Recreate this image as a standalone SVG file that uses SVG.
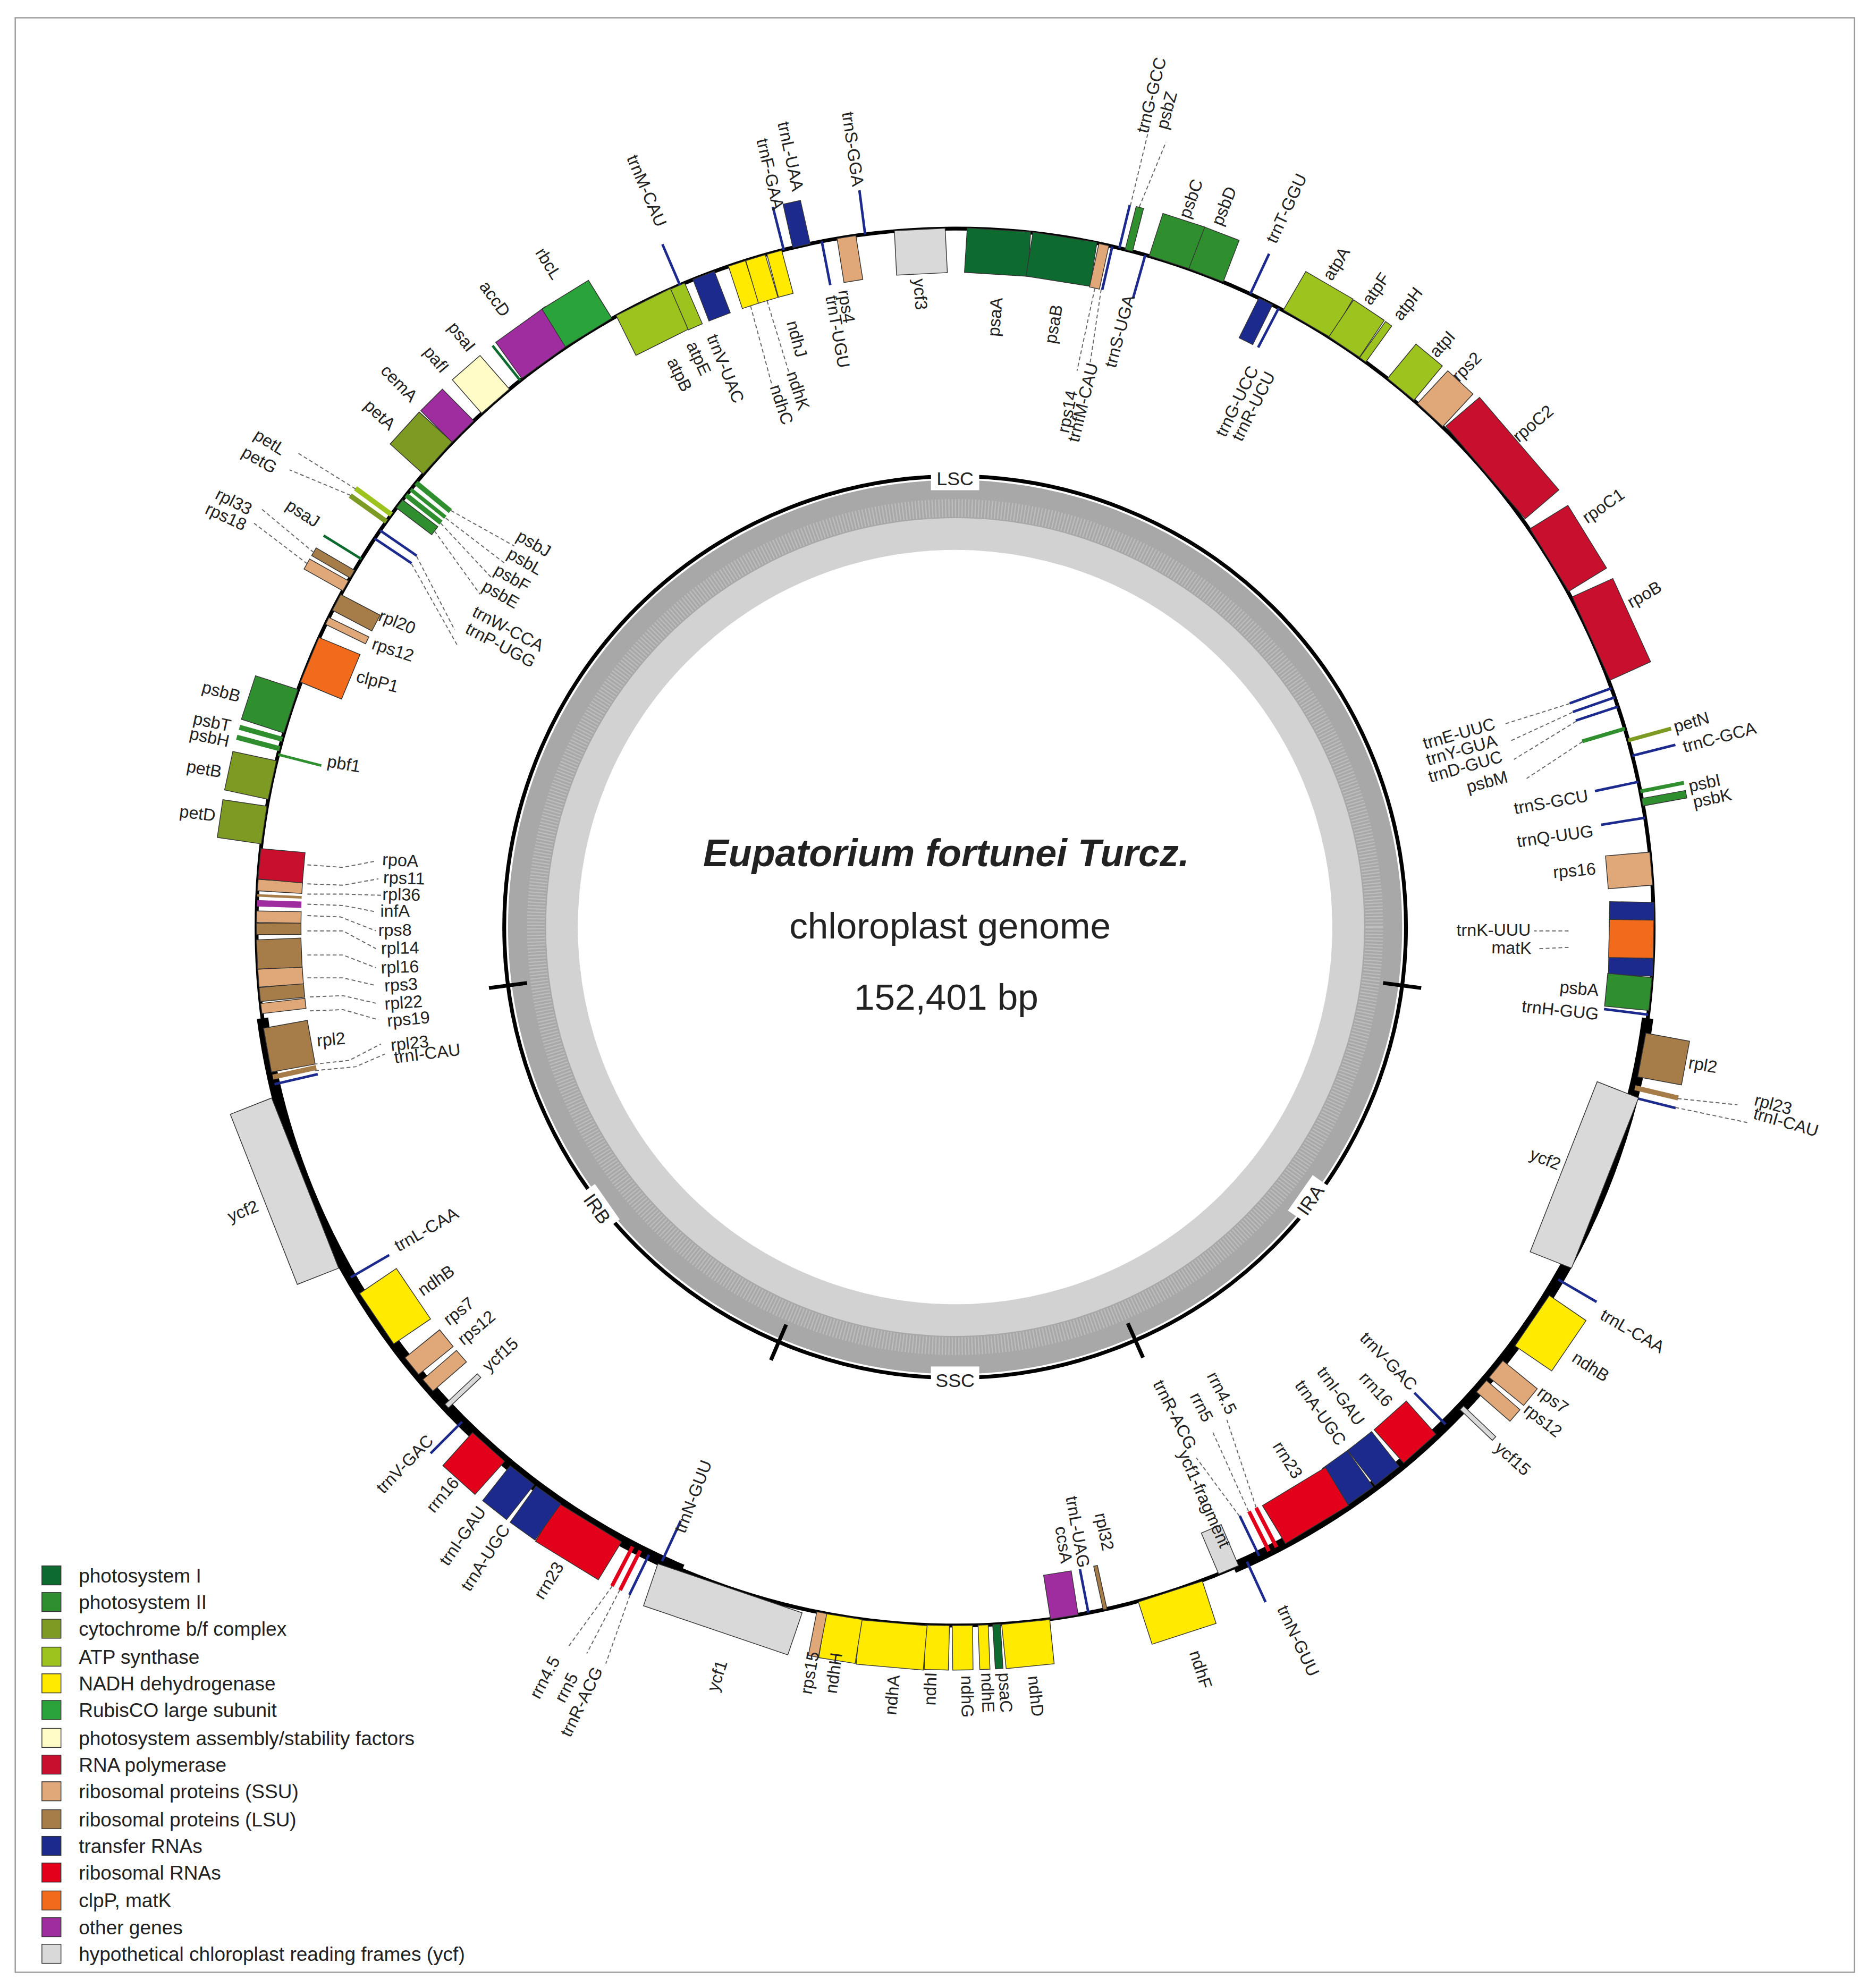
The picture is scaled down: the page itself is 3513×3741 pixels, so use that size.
<svg xmlns="http://www.w3.org/2000/svg" width="3513" height="3741" viewBox="0 0 3513 3741">
<style>
text{font-family:"Liberation Sans",Arial,sans-serif;fill:#222}
.l{font-size:13.5px;text-anchor:middle}
.lg{font-size:15.5px}
rect.g{stroke:#333;stroke-width:0.6}
.p1{fill:#0e6b2f}.p2{fill:#2f8f2f}.cy{fill:#7d9b22}.at{fill:#9dc31e}.nd{fill:#ffea00}.rb{fill:#2aa33a}.as{fill:#fffcc8}.rp{fill:#c8102e}.ss{fill:#e0a878}.ls{fill:#a67c48}.tr{fill:#1b2a8c}.rr{fill:#e3001b}.cl{fill:#f26a1b}.ot{fill:#a02da0}.yc{fill:#d9d9d9}
.ld{stroke:#666;stroke-width:0.8;fill:none;stroke-dasharray:3 2}
</style>
<rect width="3513" height="3741" fill="#fff"/>
<g transform="scale(2.3898)">
<rect x="12" y="14" width="1448" height="1539" fill="none" stroke="#999" stroke-width="1"/>
<g id="gc-plot">
<circle cx="752" cy="730" r="352" fill="#a8a8a8"/>
<circle cx="752" cy="730" r="330" fill="none" stroke="#bdbdbd" stroke-width="14" stroke-dasharray="1 1.6"/>
<circle cx="752" cy="730" r="322" fill="#d2d2d2"/>
<circle cx="752" cy="730" r="297" fill="#fff"/>
</g>
<g id="inner-ring">
<circle cx="752" cy="730" r="355" fill="none" stroke="#000" stroke-width="3"/>
<path d="M1089,774 L1119,778 M415,774 L385,778 M888,1042 L900,1069 M619,1043 L607,1071" stroke="#000" stroke-width="3"/>
<rect x="733" y="366" width="38" height="20" fill="#fff"/><text x="752" y="382" font-size="15" text-anchor="middle">LSC</text>
<rect x="733" y="1076" width="38" height="20" fill="#fff"/><text x="752" y="1092" font-size="15" text-anchor="middle">SSC</text>
<g transform="translate(1032,945) rotate(-55)"><rect x="-17" y="-10" width="34" height="20" fill="#fff"/><text y="5" font-size="15" text-anchor="middle">IRA</text></g>
<g transform="translate(470,952) rotate(55)"><rect x="-17" y="-10" width="34" height="20" fill="#fff"/><text y="5" font-size="15" text-anchor="middle">IRB</text></g>
</g>
<g id="title">
<text x="745" y="682" font-size="30" font-weight="bold" font-style="italic" text-anchor="middle">Eupatorium fortunei Turcz.</text>
<text x="748" y="739" font-size="29" text-anchor="middle">chloroplast genome</text>
<text x="745" y="795" font-size="29" text-anchor="middle">152,401 bp</text>
</g>
<g id="outer-ring">
<circle cx="752" cy="730" r="550" fill="none" stroke="#000" stroke-width="3"/>
<path d="M1297.3,801.8 A550,550 0 0 1 971.3,1234.4 M537.1,1236.3 A550,550 0 0 1 206.7,801.8" fill="none" stroke="#000" stroke-width="9"/>
</g>
<g id="genes" transform="translate(752,730)">
<rect id="ycf3" class="g yc" x="-20" y="-550" width="40" height="35" transform="rotate(357.1)"/>
<rect id="psaA" class="g p1" x="-25" y="-550" width="50" height="35" transform="rotate(3.6)"/>
<rect id="psaB" class="g p1" x="-25" y="-550" width="51" height="35" transform="rotate(9)"/>
<rect id="rps14" class="g ss" x="-4" y="-550" width="8" height="35" transform="rotate(12.3)"/>
<rect id="trnfM" class="tr" x="-1" y="-550" width="2" height="35" transform="rotate(13)"/>
<rect id="trnS-UGA" class="tr" x="-1" y="-550" width="2" height="35" transform="rotate(15.8)"/>
<rect id="trnG-GCC" class="tr" x="-1" y="-585" width="2" height="35" transform="rotate(13.6)"/>
<rect id="psbZ" class="g p2" x="-3" y="-585" width="6" height="35" transform="rotate(14.4)"/>
<rect id="psbC" class="g p2" x="-17" y="-585" width="35" height="35" transform="rotate(17.9)"/>
<rect id="psbD" class="g p2" x="-14" y="-585" width="29" height="35" transform="rotate(21)"/>
<rect id="trnT-GGU" class="tr" x="-1" y="-585" width="2" height="35" transform="rotate(25)"/>
<rect id="trnG-UCC" class="g tr" x="-6" y="-550" width="12" height="35" transform="rotate(26.4)"/>
<rect id="trnR-UCU" class="tr" x="-1" y="-550" width="2" height="35" transform="rotate(27.6)"/>
<rect id="atpA" class="g at" x="-21" y="-585" width="43" height="35" transform="rotate(30.2)"/>
<rect id="atpF" class="g at" x="-14" y="-585" width="29" height="35" transform="rotate(33.8)"/>
<rect id="atpH" class="g at" x="-3" y="-585" width="6" height="35" transform="rotate(35.7)"/>
<rect id="atpI" class="g at" x="-13" y="-585" width="27" height="35" transform="rotate(39.6)"/>
<rect id="rps2" class="g ss" x="-13" y="-585" width="27" height="35" transform="rotate(42.8)"/>
<rect id="rpoC2" class="g rp" x="-48" y="-585" width="96" height="35" transform="rotate(49.4)"/>
<rect id="rpoC1" class="g rp" x="-29" y="-585" width="58" height="35" transform="rotate(58.3)"/>
<rect id="rpoB" class="g rp" x="-36" y="-585" width="72" height="35" transform="rotate(65.6)"/>
<rect id="trnE-UUC" class="tr" x="-1" y="-550" width="2" height="35" transform="rotate(70)"/>
<rect id="trnY-GUA" class="tr" x="-1" y="-550" width="2" height="35" transform="rotate(70.8)"/>
<rect id="trnD-GUC" class="tr" x="-1" y="-550" width="2" height="35" transform="rotate(71.6)"/>
<rect id="psbM" class="p2" x="-1.5" y="-550" width="3" height="35" transform="rotate(73.5)"/>
<rect id="petN" class="cy" x="-1.5" y="-585" width="3" height="35" transform="rotate(74.5)"/>
<rect id="trnC-GCA" class="tr" x="-1" y="-585" width="2" height="35" transform="rotate(75.8)"/>
<rect id="trnS-GCU" class="tr" x="-1" y="-550" width="2" height="35" transform="rotate(78)"/>
<rect id="psbI" class="p2" x="-1.5" y="-585" width="3" height="35" transform="rotate(78.8)"/>
<rect id="psbK" class="g p2" x="-3" y="-585" width="6" height="35" transform="rotate(79.7)"/>
<rect id="trnQ-UUG" class="tr" x="-1" y="-550" width="2" height="35" transform="rotate(81)"/>
<rect id="rps16" class="g ss" x="-13" y="-550" width="26" height="35" transform="rotate(85.2)"/>
<rect id="trnK-UUU" class="g tr" x="-29" y="-550" width="58" height="35" transform="rotate(91)"/>
<rect id="matK" class="g cl" x="-15" y="-550" width="30" height="35" transform="rotate(91)"/>
<rect id="psbA" class="g p2" x="-13" y="-550" width="26" height="35" transform="rotate(95.5)"/>
<rect id="trnH-GUG" class="tr" x="-1" y="-550" width="2" height="35" transform="rotate(97.2)"/>
<rect id="rpl2a" class="g ls" x="-17" y="-585" width="35" height="35" transform="rotate(100.5)"/>
<rect id="rpl23a" class="ls" x="-2" y="-585" width="4" height="35" transform="rotate(103.3)"/>
<rect id="trnI-CAUa" class="tr" x="-1" y="-585" width="2" height="35" transform="rotate(104.1)"/>
<rect id="ycf2a" class="g yc" x="-72" y="-550" width="144" height="35" transform="rotate(111.5)"/>
<rect id="trnL-CAAa" class="tr" x="-1" y="-585" width="2" height="35" transform="rotate(120.3)"/>
<rect id="ndhBa" class="g nd" x="-24" y="-585" width="48" height="35" transform="rotate(124.3)"/>
<rect id="rps7a" class="g ss" x="-8" y="-585" width="17" height="35" transform="rotate(129.2)"/>
<rect id="rps12a" class="g ss" x="-6" y="-585" width="12" height="35" transform="rotate(131.1)"/>
<rect id="ycf15a" class="g yc" x="-2" y="-585" width="4" height="35" transform="rotate(133.5)"/>
<rect id="trnV-GACa" class="tr" x="-1" y="-550" width="2" height="35" transform="rotate(135.4)"/>
<rect id="rrn16a" class="g rr" x="-17" y="-550" width="34" height="35" transform="rotate(138.3)"/>
<rect id="trnI-GAUa" class="g tr" x="-12" y="-550" width="24" height="35" transform="rotate(141.8)"/>
<rect id="trnA-UGCa" class="g tr" x="-12" y="-550" width="24" height="35" transform="rotate(144.5)"/>
<rect id="rrn23a" class="g rr" x="-29" y="-550" width="58" height="35" transform="rotate(148.8)"/>
<rect id="rrn4.5a" class="rr" x="-1.5" y="-550" width="3" height="35" transform="rotate(152.6)"/>
<rect id="rrn5a" class="rr" x="-1.5" y="-550" width="3" height="35" transform="rotate(153.3)"/>
<rect id="trnR-ACGa" class="tr" x="-1" y="-550" width="2" height="35" transform="rotate(154.2)"/>
<rect id="trnN-GUUa" class="tr" x="-1" y="-585" width="2" height="35" transform="rotate(155.3)"/>
<rect id="ycf1-fragment" class="g yc" x="-9" y="-550" width="17" height="35" transform="rotate(157)"/>
<rect id="ndhF" class="g nd" x="-26" y="-585" width="53" height="35" transform="rotate(162)"/>
<rect id="rpl32" class="g ls" x="-1.5" y="-550" width="3" height="35" transform="rotate(167.6)"/>
<rect id="trnL-UAG" class="tr" x="-1" y="-550" width="2" height="35" transform="rotate(169)"/>
<rect id="ccsA" class="g ot" x="-11" y="-550" width="22" height="35" transform="rotate(171)"/>
<rect id="ndhD" class="g nd" x="-19" y="-585" width="38" height="35" transform="rotate(174.2)"/>
<rect id="psaC" class="g p1" x="-3" y="-585" width="6" height="35" transform="rotate(176.6)"/>
<rect id="ndhE" class="g nd" x="-4" y="-585" width="8" height="35" transform="rotate(177.7)"/>
<rect id="ndhG" class="g nd" x="-8" y="-585" width="16" height="35" transform="rotate(179.4)"/>
<rect id="ndhI" class="g nd" x="-9" y="-585" width="19" height="35" transform="rotate(181.4)"/>
<rect id="ndhA" class="g nd" x="-26" y="-585" width="53" height="35" transform="rotate(185)"/>
<rect id="ndhH" class="g nd" x="-14" y="-585" width="29" height="35" transform="rotate(189.1)"/>
<rect id="rps15" class="g ss" x="-4" y="-585" width="8" height="35" transform="rotate(191)"/>
<rect id="ycf1" class="g yc" x="-60" y="-585" width="120" height="35" transform="rotate(198.8)"/>
<rect id="trnN-GUUb" class="tr" x="-1" y="-550" width="2" height="35" transform="rotate(204.8)"/>
<rect id="trnR-ACGb" class="tr" x="-1" y="-585" width="2" height="35" transform="rotate(206)"/>
<rect id="rrn5b" class="rr" x="-1.5" y="-585" width="3" height="35" transform="rotate(206.8)"/>
<rect id="rrn4.5b" class="rr" x="-1.5" y="-585" width="3" height="35" transform="rotate(207.5)"/>
<rect id="rrn23b" class="g rr" x="-29" y="-585" width="58" height="35" transform="rotate(211.5)"/>
<rect id="trnA-UGCb" class="g tr" x="-12" y="-585" width="24" height="35" transform="rotate(215.6)"/>
<rect id="trnI-GAUb" class="g tr" x="-12" y="-585" width="24" height="35" transform="rotate(218.3)"/>
<rect id="rrn16b" class="g rr" x="-17" y="-585" width="34" height="35" transform="rotate(221.9)"/>
<rect id="trnV-GACb" class="tr" x="-1" y="-585" width="2" height="35" transform="rotate(224.9)"/>
<rect id="ycf15b" class="g yc" x="-2" y="-550" width="4" height="35" transform="rotate(226.7)"/>
<rect id="rps12b" class="g ss" x="-6" y="-550" width="12" height="35" transform="rotate(229)"/>
<rect id="rps7b" class="g ss" x="-8" y="-550" width="17" height="35" transform="rotate(231)"/>
<rect id="ndhBb" class="g nd" x="-24" y="-550" width="48" height="35" transform="rotate(235.9)"/>
<rect id="trnL-CAAb" class="tr" x="-1" y="-550" width="2" height="35" transform="rotate(239.9)"/>
<rect id="ycf2b" class="g yc" x="-72" y="-585" width="144" height="35" transform="rotate(248.5)"/>
<rect id="trnI-CAUb" class="tr" x="-1" y="-550" width="2" height="35" transform="rotate(257)"/>
<rect id="rpl23b" class="ls" x="-2" y="-550" width="4" height="35" transform="rotate(257.6)"/>
<rect id="rpl2b" class="g ls" x="-17" y="-550" width="35" height="35" transform="rotate(259.8)"/>
<rect id="rps19" class="g ss" x="-4" y="-550" width="8" height="35" transform="rotate(263.3)"/>
<rect id="rpl22" class="g ls" x="-5" y="-550" width="11" height="35" transform="rotate(264.4)"/>
<rect id="rps3" class="g ss" x="-7" y="-550" width="14" height="35" transform="rotate(265.8)"/>
<rect id="rpl16" class="g ls" x="-11" y="-550" width="23" height="35" transform="rotate(267.7)"/>
<rect id="rpl14" class="g ls" x="-4" y="-550" width="9" height="35" transform="rotate(269.8)"/>
<rect id="rps8" class="g ss" x="-5" y="-550" width="9" height="35" transform="rotate(270.9)"/>
<rect id="infA" class="ot" x="-2" y="-550" width="5" height="35" transform="rotate(271.9)"/>
<rect id="rpl36" class="ls" x="-1" y="-550" width="2" height="35" transform="rotate(272.6)"/>
<rect id="rps11" class="g ss" x="-5" y="-550" width="9" height="35" transform="rotate(273.5)"/>
<rect id="rpoA" class="g rp" x="-12" y="-550" width="24" height="35" transform="rotate(275.2)"/>
<rect id="petD" class="g cy" x="-15" y="-585" width="30" height="35" transform="rotate(278.4)"/>
<rect id="petB" class="g cy" x="-15" y="-585" width="31" height="35" transform="rotate(282.1)"/>
<rect id="pbf1" class="p2" x="-1" y="-550" width="2" height="35" transform="rotate(284.3)"/>
<rect id="psbH" class="p2" x="-2" y="-585" width="4" height="35" transform="rotate(284.8)"/>
<rect id="psbT" class="p2" x="-2" y="-585" width="4" height="35" transform="rotate(285.6)"/>
<rect id="psbB" class="g p2" x="-18" y="-585" width="36" height="35" transform="rotate(288)"/>
<rect id="clpP1" class="g cl" x="-19" y="-550" width="38" height="35" transform="rotate(292.5)"/>
<rect id="rps12c" class="g ss" x="-3" y="-550" width="6" height="35" transform="rotate(296)"/>
<rect id="rpl20" class="g ls" x="-7" y="-550" width="14" height="35" transform="rotate(297.7)"/>
<rect id="rps18" class="g ss" x="-5" y="-585" width="9" height="35" transform="rotate(299.3)"/>
<rect id="rpl33" class="g ls" x="-3" y="-585" width="7" height="35" transform="rotate(300.3)"/>
<rect id="psaJ" class="p1" x="-1" y="-585" width="2" height="35" transform="rotate(301.8)"/>
<rect id="trnP-UGG" class="tr" x="-1" y="-550" width="2" height="35" transform="rotate(303.8)"/>
<rect id="trnW-CCA" class="tr" x="-1" y="-550" width="2" height="35" transform="rotate(304.6)"/>
<rect id="petG" class="cy" x="-2" y="-585" width="4" height="35" transform="rotate(305.5)"/>
<rect id="petL" class="at" x="-2" y="-585" width="4" height="35" transform="rotate(306.2)"/>
<rect id="psbE" class="g p2" x="-4" y="-550" width="8" height="35" transform="rotate(307.3)"/>
<rect id="psbF" class="p2" x="-2" y="-550" width="4" height="35" transform="rotate(308.2)"/>
<rect id="psbL" class="p2" x="-1.5" y="-550" width="3" height="35" transform="rotate(308.8)"/>
<rect id="psbJ" class="p2" x="-2" y="-550" width="4" height="35" transform="rotate(309.5)"/>
<rect id="petA" class="g cy" x="-17" y="-585" width="34" height="35" transform="rotate(312.2)"/>
<rect id="cemA" class="g ot" x="-12" y="-585" width="24" height="35" transform="rotate(315.2)"/>
<rect id="pafI" class="g as" x="-14" y="-585" width="29" height="35" transform="rotate(318.8)"/>
<rect id="psaI" class="p1" x="-1" y="-585" width="2" height="35" transform="rotate(321.5)"/>
<rect id="accD" class="g ot" x="-24" y="-585" width="48" height="35" transform="rotate(324.2)"/>
<rect id="rbcL" class="g rb" x="-21" y="-585" width="43" height="35" transform="rotate(328.3)"/>
<rect id="atpB" class="g at" x="-24" y="-550" width="48" height="35" transform="rotate(333.5)"/>
<rect id="atpE" class="g at" x="-6" y="-550" width="12" height="35" transform="rotate(336.6)"/>
<rect id="trnM-CAU" class="tr" x="-1" y="-585" width="2" height="35" transform="rotate(336.8)"/>
<rect id="trnV-UAC" class="g tr" x="-9" y="-550" width="18" height="35" transform="rotate(338.9)"/>
<rect id="ndhC" class="g nd" x="-7" y="-550" width="14" height="35" transform="rotate(341.8)"/>
<rect id="ndhK" class="g nd" x="-8" y="-550" width="16" height="35" transform="rotate(343.4)"/>
<rect id="ndhJ" class="g nd" x="-6" y="-550" width="12" height="35" transform="rotate(345)"/>
<rect id="trnF-GAA" class="tr" x="-1" y="-585" width="2" height="35" transform="rotate(345.8)"/>
<rect id="trnL-UAA" class="g tr" x="-7" y="-585" width="14" height="35" transform="rotate(347.3)"/>
<rect id="trnT-UGU" class="tr" x="-1" y="-550" width="2" height="35" transform="rotate(349)"/>
<rect id="rps4" class="g ss" x="-7" y="-550" width="15" height="35" transform="rotate(351)"/>
<rect id="trnS-GGA" class="tr" x="-1" y="-585" width="2" height="35" transform="rotate(352.6)"/>
</g>
<g id="connectors">
<path class="ld" d="M890,162 L905,100 M897,163 L918,112 M862,227 L848,292 M867,228 L858,288"/>
<path class="ld" d="M1236,554 L1185,570 M1238,561 L1188,584 M1241,568 L1192,598 M1246,584 L1202,613"/>
<path class="ld" d="M1235,733 L1208,733 M1235,746 L1212,747"/>
<path class="ld" d="M1321,865 L1368,870 M1319,872 L1376,884"/>
<path class="ld" d="M989,1187 L966,1118 M983,1190 L955,1128 M976,1194 L942,1148"/>
<path class="ld" d="M482,1249 L448,1296 M488,1252 L462,1302 M496,1256 L477,1310"/>
<path class="ld" d="M242,681 L270,683 L296,678 M242,696 L270,697 L298,692 M242,704 L270,704 L300,705 M242,712 L270,713 L296,718 M242,721 L268,722 L296,733 M242,733 L270,733 L296,747 M242,752 L270,752 L296,762 M242,770 L270,770 L296,776 M244,785 L270,784 L296,790 M244,796 L270,795 L298,803 M247,838 L275,835 L300,822 M248,843 L280,840 L303,830"/>
<path class="ld" d="M242,444 L200,412 M247,435 L205,400 M280,385 L235,357 M276,390 L228,370"/>
<path class="ld" d="M342,418 L378,468 M347,412 L388,456 M351,408 L398,444 M355,402 L405,430 M324,444 L360,508 M328,438 L358,496"/>
<path class="ld" d="M591,241 L608,304 M604,237 L622,296"/>
</g>
<g id="labels">
<text class="l" transform="translate(505,152) rotate(67)">trnM-CAU</text>
<text class="l" transform="translate(428,210) rotate(58)">rbcL</text>
<text class="l" transform="translate(386,238) rotate(54)">accD</text>
<text class="l" transform="translate(360,268) rotate(51)">psaI</text>
<text class="l" transform="translate(340,286) rotate(50)">pafI</text>
<text class="l" transform="translate(311,305) rotate(46)">cemA</text>
<text class="l" transform="translate(296,330) rotate(43)">petA</text>
<text class="l" transform="translate(210,352) rotate(32)">petL</text>
<text class="l" transform="translate(202,366) rotate(30)">petG</text>
<text class="l" transform="translate(182,399) rotate(27)">rpl33</text>
<text class="l" transform="translate(176,411) rotate(25)">rps18</text>
<text class="l" transform="translate(236,408) rotate(33)">psaJ</text>
<text class="l" transform="translate(418,432) rotate(30)">psbJ</text>
<text class="l" transform="translate(411,446) rotate(30)">psbL</text>
<text class="l" transform="translate(401,459) rotate(30)">psbF</text>
<text class="l" transform="translate(392,472) rotate(30)">psbE</text>
<text class="l" transform="translate(398,499) rotate(28)">trnW-CCA</text>
<text class="l" transform="translate(392,512) rotate(28)">trnP-UGG</text>
<text class="l" transform="translate(311,494) rotate(22)">rpl20</text>
<text class="l" transform="translate(308,516) rotate(18)">rps12</text>
<text class="l" transform="translate(296,541) rotate(15)">clpP1</text>
<text class="l" transform="translate(173,549) rotate(15)">psbB</text>
<text class="l" transform="translate(166,573) rotate(12)">psbT</text>
<text class="l" transform="translate(164,585) rotate(12)">psbH</text>
<text class="l" transform="translate(270,606) rotate(10)">pbf1</text>
<text class="l" transform="translate(160,610) rotate(10)">petB</text>
<text class="l" transform="translate(155,645) rotate(7)">petD</text>
<text class="l" transform="translate(315,682) rotate(3)">rpoA</text>
<text class="l" transform="translate(318,696) rotate(2)">rps11</text>
<text class="l" transform="translate(316,709) rotate(1)">rpl36</text>
<text class="l" transform="translate(311,722)">infA</text>
<text class="l" transform="translate(311,737)">rps8</text>
<text class="l" transform="translate(315,751) rotate(-1)">rpl14</text>
<text class="l" transform="translate(315,766) rotate(-2)">rpl16</text>
<text class="l" transform="translate(316,780) rotate(-3)">rps3</text>
<text class="l" transform="translate(318,794) rotate(-4)">rpl22</text>
<text class="l" transform="translate(322,807) rotate(-5)">rps19</text>
<text class="l" transform="translate(261,823) rotate(-5)">rpl2</text>
<text class="l" transform="translate(323,826) rotate(-6)">rpl23</text>
<text class="l" transform="translate(337,834) rotate(-7)">trnI-CAU</text>
<text class="l" transform="translate(193,958) rotate(-22)">ycf2</text>
<text class="l" transform="translate(338,972) rotate(-30)">trnL-CAA</text>
<text class="l" transform="translate(346,1012) rotate(-35)">ndhB</text>
<text class="l" transform="translate(364,1036) rotate(-38)">rps7</text>
<text class="l" transform="translate(378,1049) rotate(-40)">rps12</text>
<text class="l" transform="translate(397,1070) rotate(-42)">ycf15</text>
<text class="l" transform="translate(322,1156) rotate(-46)">trnV-GAC</text>
<text class="l" transform="translate(352,1180) rotate(-50)">rrn16</text>
<text class="l" transform="translate(368,1212) rotate(-55)">trnI-GAU</text>
<text class="l" transform="translate(386,1229) rotate(-57)">trnA-UGC</text>
<text class="l" transform="translate(436,1247) rotate(-58)">rrn23</text>
<text class="l" transform="translate(433,1323) rotate(-62)">rrn4.5</text>
<text class="l" transform="translate(450,1331) rotate(-62)">rrn5</text>
<text class="l" transform="translate(462,1342) rotate(-64)">trnR-ACG</text>
<text class="l" transform="translate(550,1180) rotate(-69)">trnN-GUU</text>
<text class="l" transform="translate(569,1321) rotate(-72)">ycf1</text>
<text class="l" transform="translate(642,1318) rotate(-80)">rps15</text>
<text class="l" transform="translate(661,1318) rotate(-82)">ndhH</text>
<text class="l" transform="translate(707,1335) rotate(-85)">ndhA</text>
<text class="l" transform="translate(737,1330) rotate(-88)">ndhI</text>
<text class="l" transform="translate(757,1336) rotate(89)">ndhG</text>
<text class="l" transform="translate(773,1333) rotate(88)">ndhE</text>
<text class="l" transform="translate(787,1333) rotate(87)">psaC</text>
<text class="l" transform="translate(811,1336) rotate(84)">ndhD</text>
<text class="l" transform="translate(833,1217) rotate(81)">ccsA</text>
<text class="l" transform="translate(844,1207) rotate(80)">trnL-UAG</text>
<text class="l" transform="translate(865,1207) rotate(78)">rpl32</text>
<text class="l" transform="translate(941,1316) rotate(72)">ndhF</text>
<text class="l" transform="translate(1018,1294) rotate(65)">trnN-GUU</text>
<text class="l" transform="translate(944,1182) rotate(66)">ycf1-fragment</text>
<text class="l" transform="translate(921,1116) rotate(63)">trnR-ACG</text>
<text class="l" transform="translate(942,1110) rotate(63)">rrn5</text>
<text class="l" transform="translate(958,1099) rotate(63)">rrn4.5</text>
<text class="l" transform="translate(1010,1152) rotate(58)">rrn23</text>
<text class="l" transform="translate(1036,1115) rotate(55)">trnA-UGC</text>
<text class="l" transform="translate(1052,1102) rotate(54)">trnI-GAU</text>
<text class="l" transform="translate(1080,1097) rotate(48)">rrn16</text>
<text class="l" transform="translate(1090,1075) rotate(46)">trnV-GAC</text>
<text class="l" transform="translate(1188,1152) rotate(42)">ycf15</text>
<text class="l" transform="translate(1212,1122) rotate(38)">rps12</text>
<text class="l" transform="translate(1220,1106) rotate(36)">rps7</text>
<text class="l" transform="translate(1250,1080) rotate(33)">ndhB</text>
<text class="l" transform="translate(1283,1052) rotate(30)">trnL-CAA</text>
<text class="l" transform="translate(1215,917) rotate(22)">ycf2</text>
<text class="l" transform="translate(1395,874) rotate(15)">rpl23</text>
<text class="l" transform="translate(1405,888) rotate(16)">trnI-CAU</text>
<text class="l" transform="translate(1340,843) rotate(10)">rpl2</text>
<text class="l" transform="translate(1228,800) rotate(6)">trnH-GUG</text>
<text class="l" transform="translate(1243,783) rotate(5)">psbA</text>
<text class="l" transform="translate(1176,737)">trnK-UUU</text>
<text class="l" transform="translate(1190,751) rotate(1)">matK</text>
<text class="l" transform="translate(1240,690) rotate(-5)">rps16</text>
<text class="l" transform="translate(1225,663) rotate(-8)">trnQ-UUG</text>
<text class="l" transform="translate(1222,636) rotate(-10)">trnS-GCU</text>
<text class="l" transform="translate(1343,621) rotate(-12)">psbI</text>
<text class="l" transform="translate(1349,633) rotate(-12)">psbK</text>
<text class="l" transform="translate(1355,585) rotate(-15)">trnC-GCA</text>
<text class="l" transform="translate(1333,573) rotate(-16)">petN</text>
<text class="l" transform="translate(1150,582) rotate(-16)">trnE-UUC</text>
<text class="l" transform="translate(1152,595) rotate(-16)">trnY-GUA</text>
<text class="l" transform="translate(1155,608) rotate(-16)">trnD-GUC</text>
<text class="l" transform="translate(1172,620) rotate(-15)">psbM</text>
<text class="l" transform="translate(1297,472) rotate(-30)">rpoB</text>
<text class="l" transform="translate(1265,402) rotate(-35)">rpoC1</text>
<text class="l" transform="translate(1210,337) rotate(-40)">rpoC2</text>
<text class="l" transform="translate(1158,292) rotate(-45)">rps2</text>
<text class="l" transform="translate(1139,274) rotate(-48)">atpI</text>
<text class="l" transform="translate(1112,242) rotate(-52)">atpH</text>
<text class="l" transform="translate(1087,230) rotate(-55)">atpF</text>
<text class="l" transform="translate(1056,210) rotate(-58)">atpA</text>
<text class="l" transform="translate(978,318) rotate(-64)">trnG-UCC</text>
<text class="l" transform="translate(991,322) rotate(-63)">trnR-UCU</text>
<text class="l" transform="translate(1017,166) rotate(-65)">trnT-GGU</text>
<text class="l" transform="translate(968,164) rotate(-68)">psbD</text>
<text class="l" transform="translate(942,158) rotate(-70)">psbC</text>
<text class="l" transform="translate(923,88) rotate(-75)">psbZ</text>
<text class="l" transform="translate(911,76) rotate(-76)">trnG-GCC</text>
<text class="l" transform="translate(886,262) rotate(-75)">trnS-UGA</text>
<text class="l" transform="translate(845,325) rotate(-78)">rps14</text>
<text class="l" transform="translate(857,318) rotate(-76)">trnfM-CAU</text>
<text class="l" transform="translate(834,256) rotate(-80)">psaB</text>
<text class="l" transform="translate(788,250) rotate(-85)">psaA</text>
<text class="l" transform="translate(720,232) rotate(86)">ycf3</text>
<text class="l" transform="translate(662,242) rotate(81)">rps4</text>
<text class="l" transform="translate(655,262) rotate(80)">trnT-UGU</text>
<text class="l" transform="translate(667,118) rotate(82)">trnS-GGA</text>
<text class="l" transform="translate(618,124) rotate(78)">trnL-UAA</text>
<text class="l" transform="translate(602,138) rotate(77)">trnF-GAA</text>
<text class="l" transform="translate(623,268) rotate(75)">ndhJ</text>
<text class="l" transform="translate(624,309) rotate(72)">ndhK</text>
<text class="l" transform="translate(611,320) rotate(72)">ndhC</text>
<text class="l" transform="translate(567,292) rotate(68)">trnV-UAC</text>
<text class="l" transform="translate(546,284) rotate(65)">atpE</text>
<text class="l" transform="translate(531,297) rotate(64)">atpB</text>
</g>
<g id="legend">
<rect class="g p1" x="33" y="1233" width="15" height="15"/><text class="lg" x="62" y="1246">photosystem I</text>
<rect class="g p2" x="33" y="1254" width="15" height="15"/><text class="lg" x="62" y="1267">photosystem II</text>
<rect class="g cy" x="33" y="1275" width="15" height="15"/><text class="lg" x="62" y="1288">cytochrome b/f complex</text>
<rect class="g at" x="33" y="1297" width="15" height="15"/><text class="lg" x="62" y="1310">ATP synthase</text>
<rect class="g nd" x="33" y="1318" width="15" height="15"/><text class="lg" x="62" y="1331">NADH dehydrogenase</text>
<rect class="g rb" x="33" y="1339" width="15" height="15"/><text class="lg" x="62" y="1352">RubisCO large subunit</text>
<rect class="g as" x="33" y="1361" width="15" height="15"/><text class="lg" x="62" y="1374">photosystem assembly/stability factors</text>
<rect class="g rp" x="33" y="1382" width="15" height="15"/><text class="lg" x="62" y="1395">RNA polymerase</text>
<rect class="g ss" x="33" y="1403" width="15" height="15"/><text class="lg" x="62" y="1416">ribosomal proteins (SSU)</text>
<rect class="g ls" x="33" y="1425" width="15" height="15"/><text class="lg" x="62" y="1438">ribosomal proteins (LSU)</text>
<rect class="g tr" x="33" y="1446" width="15" height="15"/><text class="lg" x="62" y="1459">transfer RNAs</text>
<rect class="g rr" x="33" y="1467" width="15" height="15"/><text class="lg" x="62" y="1480">ribosomal RNAs</text>
<rect class="g cl" x="33" y="1489" width="15" height="15"/><text class="lg" x="62" y="1502">clpP, matK</text>
<rect class="g ot" x="33" y="1510" width="15" height="15"/><text class="lg" x="62" y="1523">other genes</text>
<rect class="g yc" x="33" y="1531" width="15" height="15"/><text class="lg" x="62" y="1544">hypothetical chloroplast reading frames (ycf)</text>
</g>
</g>
</svg>
